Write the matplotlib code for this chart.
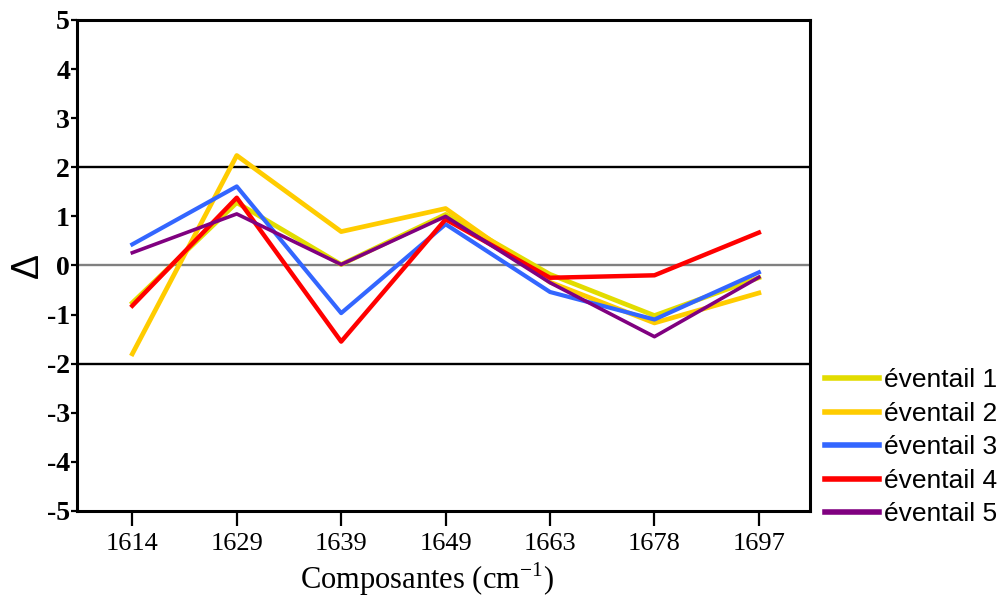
import matplotlib.pyplot as plt
import numpy as np

# Datos
composantes = ["1614", "1629", "1639", "1649", "1663", "1678", "1697"]
eventail_1 = [-0.76, 1.28, 0.02, 1.04, -0.18, -1.02, -0.25]
eventail_2 = [-1.80, 2.24, 0.69, 1.16, -0.34, -1.17, -0.56]
eventail_3 = [0.43, 1.61, -0.97, 0.84, -0.54, -1.10, -0.14]
eventail_4 = [-0.82, 1.38, -1.55, 0.94, -0.25, -0.20, 0.67]
eventail_5 = [0.26, 1.05, 0.02, 1.00, -0.35, -1.45, -0.24]
series = [eventail_1, eventail_2, eventail_3, eventail_4, eventail_5]
noms = ["éventail 1", "éventail 2", "éventail 3", "éventail 4", "éventail 5"]
COULEURS = ["#E2DC00", "#FFCC00", "#3366FF", "#FF0000", "#800080"]
EPAISSEUR = [3.4, 3.4, 3.0, 3.2, 2.6]

fig = plt.figure(figsize=(10.05, 5.98), dpi=100)
ax = fig.add_axes([0.0766, 0.1455, 0.7294, 0.8211])

x = np.arange(len(composantes))
# lignes de reference
ax.axhline(2, color="black", lw=1.7, zorder=1)
ax.axhline(-2, color="black", lw=1.7, zorder=1)
ax.axhline(0, color="#808080", lw=1.7, zorder=1)

for i in range(len(series)):
    ax.plot(x, series[i], color=COULEURS[i], lw=EPAISSEUR[i], label=noms[i], zorder=2 + i)

ax.set_xlim(-0.53, 6.49)
ax.set_ylim(-5, 5)
ax.set_xticks(x)
ax.set_xticklabels(composantes, family="Liberation Serif", fontsize=19)
ax.set_yticks(np.arange(-5, 6, 1))
ax.set_yticklabels([str(v) for v in range(-5, 6)], family="Liberation Serif",
                   fontweight="bold", fontsize=20)
ax.tick_params(axis="x", length=11, width=1.6, pad=5)
ax.tick_params(axis="y", length=4, width=1.6, pad=1)
for s in ax.spines.values():
    s.set_linewidth(2.2)
    s.set_color("black")

ax.set_xlabel("Composantes (cm$^{\\mathregular{-1}}$)", family="Liberation Serif",
              fontsize=22)
ax.xaxis.set_label_coords(0.477, -0.1)
ax.set_ylabel("Δ", family="Liberation Sans", fontsize=27)
ax.yaxis.set_label_coords(-0.042, 0.5)

leg = fig.legend(loc="upper left", bbox_to_anchor=(0.821, 0.384), frameon=False,
                 prop={"family": "Liberation Sans", "size": 19}, handlelength=2.05,
                 handletextpad=0.2, labelspacing=0.36, borderpad=0, borderaxespad=0)
for ligne in leg.get_lines():
    ligne.set_linewidth(4)

fig.savefig("out.png", dpi=100)
